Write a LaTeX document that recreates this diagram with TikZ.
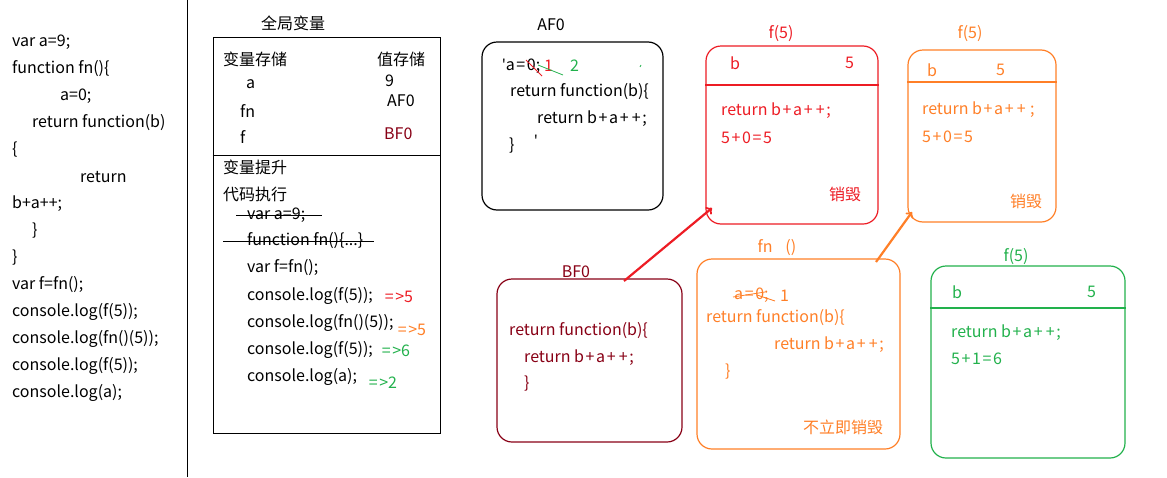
\documentclass[tikz,border=0pt]{standalone}
\usepackage{fontspec}
\setmainfont{Noto Sans CJK SC}
\newfontfamily\latinfont{Noto Sans}
\definecolor{pred}{HTML}{ED1C24}
\definecolor{porange}{HTML}{FF7F27}
\definecolor{pgreen}{HTML}{22B14C}
\definecolor{pdark}{HTML}{880015}
\newcommand\pls{\kern1.6pt+\kern1.6pt}
\newcommand\eqs{\kern1.6pt=\kern1.6pt}
\begin{document}
\begin{tikzpicture}[x=1pt,y=-1pt,font=\fontsize{16}{19}\selectfont,
    txt/.style={anchor=west,inner sep=0pt},
    lbl/.style={inner sep=0pt},
    frame/.style={draw,rounded corners=15pt,line width=1.2pt},
    link/.style={->,line width=2.2pt}]
    \useasboundingbox (0,0) rectangle (1167,477);

    % source code
    \node[txt] (c1) at (12,42) {var a=9;};
    \node[txt] (c2) at (12,69) {function fn()\{};
    \node[txt] (c3) at (60,96) {a=0;};
    \node[txt] (c4) at (32,123) {return function(b)};
    \node[txt] (c5) at (12,150) {\{};
    \node[txt] (c6) at (80,177) {return};
    \node[txt] (c7) at (12,204) {b+a++;};
    \node[txt] (c8) at (32,231) {\}};
    \node[txt] (c9) at (12,258) {\}};
    \node[txt] (c10) at (12,285) {var f=fn();};
    \node[txt] (c11) at (12,312) {console.log(f(5));};
    \node[txt] (c12) at (12,339) {console.log(fn()(5));};
    \node[txt] (c13) at (12,366) {console.log(f(5));};
    \node[txt] (c14) at (12,393) {console.log(a);};
    \draw[line width=1pt] (187,0) -- (187,477);

    % global scope
    \node[lbl] (gt) at (293,23) {全局变量};
    \node[draw,line width=1pt,minimum width=227pt,minimum height=396pt] (glob) at (326.5,235) {};
    \draw[line width=1pt] (glob.west |- 0,155) -- (glob.east |- 0,155);
    \node[txt] (vs) at (223,59) {变量存储};
    \node[txt] (ws) at (377,59) {值存储};
    \node[txt] (va) at (246,84) {a};
    \node[txt] (vfn) at (240,111) {fn};
    \node[txt] (vf) at (240,137) {f};
    \node[txt] (wa) at (385,81) {9};
    \node[txt] (wfn) at (387,101) {AF0};
    \node[txt,pdark] (wf) at (384,134) {BF0};
    \node[txt] (hoist) at (223,167) {变量提升};
    \node[txt] (run) at (223,194) {代码执行};
    \node[txt] (e1) at (247,215) {var a=9;};
    \node[txt] (e2) at (247,241) {function fn()\{...\}};
    \node[txt] (e3) at (247,268) {var f=fn();};
    \node[txt] (e4) at (247,296) {console.log(f(5));};
    \node[txt] (e5) at (247,323) {console.log(fn()(5));};
    \node[txt] (e6) at (247,350) {console.log(f(5));};
    \node[txt] (e7) at (247,377) {console.log(a);};
    \draw[line width=1pt] (236,215) -- (322,215);
    \draw[line width=1pt] (223,241) -- (374,241);
    \node[txt,pred] (r1) at (383,297) {\eqs>5};
    \node[txt,porange] (r2) at (396,330) {\eqs>5};
    \node[txt,pgreen] (r3) at (380,351) {\eqs>6};
    \node[txt,pgreen] (r4) at (367,383) {\eqs>2};

    % AF0
    \node[lbl] (at) at (551,25) {AF0};
    \node[frame,minimum width=181pt,minimum height=168pt] (af0) at (572.5,126) {};
    \node[txt] (a1) at (502,66) {{\latinfont'}a\eqs0;};
    \node[txt,pred] (a1r) at (544,66) {1};
    \node[txt,pgreen] (a1g) at (570,66) {2};
    \draw[pred,line width=0.8pt] (526,60) -- (542,76);
    \draw[pgreen,line width=0.8pt] (538,65) -- (563,75);
    \draw[pgreen,line width=0.8pt] (640,67) -- (641,65);
    \node[txt] (a2) at (510,92) {return function(b)\{};
    \node[txt] (a3) at (537,119) {return b\pls a\pls\pls;};
    \node[txt] (a4) at (509,146) {\}};
    \node[txt] (a5) at (534,141) {\latinfont'};

    % f(5) first call
    \begin{scope}[pred]
        \node[lbl] (f5at) at (781,34) {f(5)};
        \node[frame,minimum width=172pt,minimum height=178pt] (f5a) at (792,135) {};
        \draw[line width=1.2pt] (f5a.west |- 0,85) -- (f5a.east |- 0,85);
        \node[txt] (f5ab) at (730,63) {b};
        \node[txt] (f5av) at (845,63) {5};
        \node[txt] (f5a1) at (721,111) {return b\pls a\pls\pls;};
        \node[txt] (f5a2) at (721,138) {5\pls0\eqs5};
        \node[txt] (f5a3) at (829,194) {销毁};
    \end{scope}

    % f(5) second call
    \begin{scope}[porange]
        \node[lbl] (f5bt) at (970,34) {f(5)};
        \node[frame,minimum width=148pt,minimum height=172pt] (f5b) at (982,136) {};
        \draw[line width=1.2pt] (f5b.west |- 0,82) -- (f5b.east |- 0,82);
        \node[txt] (f5bb) at (927,70) {b};
        \node[txt] (f5bv) at (996,70) {5};
        \node[txt] (f5b1) at (922,110) {return b\pls a\pls\pls\,;};
        \node[txt] (f5b2) at (922,137) {5\pls0\eqs5};
        \node[txt] (f5b3) at (1010,201) {销毁};
    \end{scope}

    % BF0
    \begin{scope}[pdark]
        \node[frame,minimum width=185pt,minimum height=163pt] (bf0) at (589.5,360.5) {};
        \node[lbl] (bt) at (576,272) {BF0};
        \node[txt] (b1) at (509,331) {return function(b)\{};
        \node[txt] (b2) at (524,358) {return b\pls a\pls\pls;};
        \node[txt] (b3) at (524,384) {\}};
    \end{scope}

    % fn()
    \begin{scope}[porange]
        \node[lbl] (fnt) at (777,248) {fn\hspace{0.8em}()};
        \node[frame,minimum width=203pt,minimum height=190pt] (fnb) at (798.5,354) {};
        \node[txt] (n1) at (734,295) {a\eqs0;};
        \draw[line width=0.8pt] (733,297) -- (765,292);
        \draw[line width=0.8pt] (757,295) -- (775,301);
        \node[txt] (n1v) at (780,296) {1};
        \node[txt] (n2) at (706,318) {return function(b)\{};
        \node[txt] (n3) at (774,345) {return b\pls a\pls\pls;};
        \node[txt] (n4) at (725,372) {\}};
        \node[txt] (n5) at (803,427) {不立即销毁};
    \end{scope}

    % f(5) third call
    \begin{scope}[pgreen]
        \node[lbl] (f5ct) at (1016,257) {f(5)};
        \node[frame,minimum width=194pt,minimum height=192pt] (f5c) at (1028,362) {};
        \draw[line width=1.2pt] (f5c.west |- 0,308) -- (f5c.east |- 0,308);
        \node[txt] (f5cb) at (952,292) {b};
        \node[txt] (f5cv) at (1087,292) {5};
        \node[txt] (f5c1) at (951,333) {return b\pls a\pls\pls;};
        \node[txt] (f5c2) at (951,359) {5\pls1\eqs6};
    \end{scope}

    % calls
    \coordinate (bf0out) at (624,281);
    \coordinate (f5ain) at (712,208);
    \coordinate (fnout) at (876,262);
    \coordinate (f5bin) at (912,212);
    \draw[link,pred] (bf0out) -- (f5ain);
    \draw[link,porange] (fnout) -- (f5bin);
\end{tikzpicture}
\end{document}
